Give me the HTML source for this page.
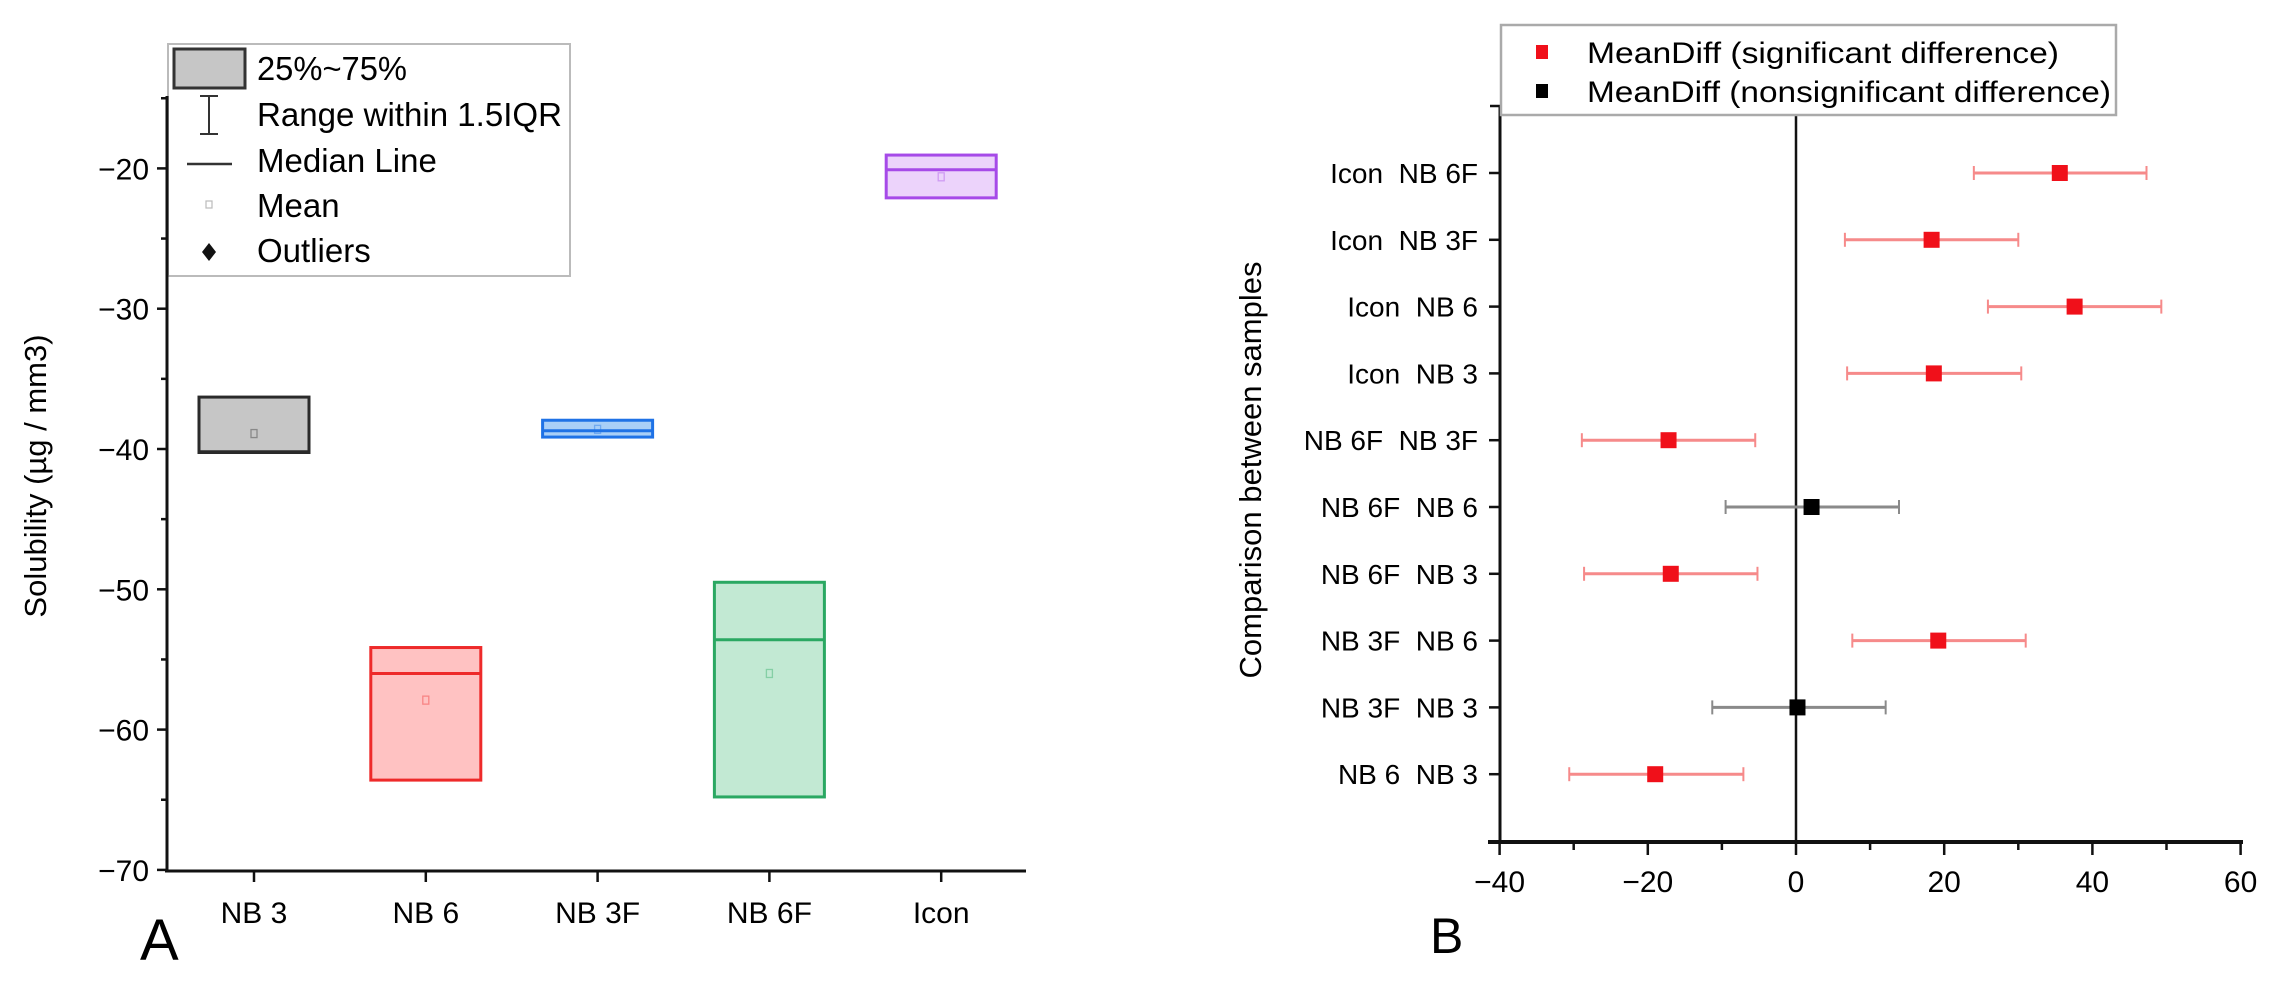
<!DOCTYPE html>
<html><head><meta charset="utf-8">
<style>
html,body{margin:0;padding:0;background:#fff;}
svg{display:block;font-family:"Liberation Sans",Arial,sans-serif;}
</style></head>
<body>
<svg id="fig" width="2282" height="982" viewBox="0 0 2282 982">
  <g id="panelA"></g>
  <g id="panelB"></g>
</svg>
<script>
// ---------- Panel A data ----------
const aCategories = ["NB 3","NB 6","NB 3F","NB 6F","Icon"];
const aQ1 = [-40.25,-63.6,-39.15,-64.8,-22.1];
const aQ3 = [-36.3,-54.15,-37.95,-49.5,-19.05];
const aMedian = [-40.2,-56.0,-38.7,-53.6,-20.1];
const aMean = [-38.9,-57.9,-38.6,-56.0,-20.6];
const aYTicks = [-70,-60,-50,-40,-30,-20];
const aFill = ["#c6c6c6","#ffc2c2","#a9cff7","#c2e9d3","#ecd3fb"];
const aStroke = ["#2a2a2a","#ee2a2a","#1f72e6","#2aa862","#a64ae8"];

// ---------- Panel B data ----------
const bCategories = ["NB 6  NB 3","NB 3F  NB 3","NB 3F  NB 6","NB 6F  NB 3","NB 6F  NB 6","NB 6F  NB 3F","Icon  NB 3","Icon  NB 6","Icon  NB 3F","Icon  NB 6F"];
const bMeanDiff = [-19.0,0.2,19.2,-16.9,2.1,-17.2,18.6,37.6,18.3,35.6];
const bLower = [-30.6,-11.3,7.6,-28.6,-9.5,-28.9,6.9,25.9,6.6,24.0];
const bUpper = [-7.1,12.1,31.0,-5.2,13.9,-5.5,30.4,49.3,30.0,47.3];
const bSignificant = [true,false,true,true,false,true,true,true,true,true];
const bXTicks = [-40,-20,0,20,40,60];

const NS="http://www.w3.org/2000/svg";
function mk(parent,tag,attrs,text){const e=document.createElementNS(NS,tag);for(const k in attrs)e.setAttribute(k,attrs[k]);if(text!==undefined)e.textContent=text;parent.appendChild(e);return e;}

// ===== Panel A =====
const A=document.getElementById('panelA');
const ayS=v=>449+(-40-v)*14.03;
const axS=i=>254+171.8*i;
const aBoxW=110;
const lg=mk(A,'g',{});


mk(lg,'rect',{x:168,y:44,width:402,height:232,fill:'#fff',stroke:'#bbb','stroke-width':2});
let sw=mk(lg,'rect',{x:174,y:49,width:71,height:39,fill:'#c6c6c6',stroke:'#333','stroke-width':3});

mk(lg,'path',{d:'M200 96 H218 M209 96 V134 M200 134 H218',stroke:'#333','stroke-width':2,fill:'none'});
mk(lg,'path',{d:'M187 164 H232',stroke:'#333','stroke-width':2.5});
mk(lg,'rect',{x:206,y:201,width:6,height:7,fill:'none',stroke:'#bbb','stroke-width':1.2});
mk(lg,'path',{d:'M209 243 L216 252 L209 261 L202 252 Z',fill:'#111'});
const aLeg=[["25%~75%",80,150],["Range within 1.5IQR",126,305],["Median Line",172,0],["Mean",217,0],["Outliers",262,0]];
aLeg.forEach(([t,y,w],i)=>{const at={x:257,y:y,'font-size':33,fill:'#000'};
 if(w){at.textLength=w;at.lengthAdjust='spacingAndGlyphs';}
 const e=mk(lg,'text',at,t);
 });
const aAxes=mk(A,'g',{stroke:'#111','stroke-width':3});

mk(aAxes,'line',{x1:167,y1:96,x2:167,y2:871});
mk(aAxes,'line',{x1:165,y1:871,x2:1026,y2:871});
for(let v=-70;v<=-15;v+=5){const y=ayS(v);mk(aAxes,'line',{x1:v%10===0?157:161,y1:y,x2:167,y2:y,'stroke-width':2.5});}
aYTicks.forEach(v=>{const t=mk(A,'text',{x:149,y:ayS(v)+11,'font-size':30,'text-anchor':'end',fill:'#000'},'\u2212'+Math.abs(v));
 });
const aTitle=mk(A,'text',{x:0,y:0,'font-size':31,'text-anchor':'middle',fill:'#000',transform:'translate(46,476) rotate(-90)'},'Solubility (\u00b5g / mm3)');

aCategories.forEach((c,i)=>{const x=axS(i);
 mk(aAxes,'line',{x1:x,y1:871,x2:x,y2:882,'stroke-width':2.5});
 const t=mk(A,'text',{x:x,y:923,'font-size':30,'text-anchor':'middle',fill:'#000'},c);
 
 const g=mk(A,'g',{});
 
 
 const y1=ayS(aQ3[i]),y2=ayS(aQ1[i]);
 mk(g,'rect',{x:x-aBoxW/2,y:y1,width:aBoxW,height:y2-y1,fill:aFill[i],stroke:aStroke[i],'stroke-width':3});
 mk(g,'line',{x1:x-aBoxW/2,x2:x+aBoxW/2,y1:ayS(aMedian[i]),y2:ayS(aMedian[i]),stroke:aStroke[i],'stroke-width':3});
 mk(g,'rect',{x:x-3,y:ayS(aMean[i])-4,width:6,height:8,fill:'none',stroke:aStroke[i],'stroke-opacity':0.4,'stroke-width':1.3});
});
const aLab=mk(A,'text',{x:140,y:960,'font-size':58,fill:'#000'},'A');


// ===== Panel B =====
const B=document.getElementById('panelB');
const bxS=v=>1796+v*7.41;
const byS=p=>841-p*66.8;
const bAx=mk(B,'g',{stroke:'#111','stroke-width':3});

mk(bAx,'line',{x1:1500,y1:106,x2:1500,y2:843});
mk(bAx,'line',{x1:1488,y1:842,x2:2243,y2:842,'stroke-width':4});
mk(bAx,'line',{x1:bxS(0),y1:106,x2:bxS(0),y2:842,'stroke-width':2.5});
mk(bAx,'line',{x1:1490,y1:106,x2:1500,y2:106,'stroke-width':2.5});
for(let v=-40;v<=60;v+=10){mk(bAx,'line',{x1:bxS(v),y1:842,x2:bxS(v),y2:v%20===0?855:850,'stroke-width':2.5});}
bXTicks.forEach(v=>{const t=mk(B,'text',{x:bxS(v),y:892,'font-size':30,'text-anchor':'middle',fill:'#000'},(v<0?'\u2212':'')+Math.abs(v));
 });
bCategories.forEach((c,i)=>{const y=byS(i+1);
 mk(bAx,'line',{x1:1489,y1:y,x2:1500,y2:y,'stroke-width':2.5});
 const t=mk(B,'text',{x:1478,y:y+10,'font-size':28,'text-anchor':'end',fill:'#000','xml:space':'preserve'},c);
 t.style.whiteSpace='pre';
 
 const sig=bSignificant[i];
 const g=mk(B,'g',{});
 
 
 const col=sig?'#f68a8a':'#8a8a8a';
 mk(g,'line',{x1:bxS(bLower[i]),x2:bxS(bUpper[i]),y1:y,y2:y,stroke:col,'stroke-width':3});
 mk(g,'line',{x1:bxS(bLower[i]),x2:bxS(bLower[i]),y1:y-7,y2:y+7,stroke:col,'stroke-width':2});
 mk(g,'line',{x1:bxS(bUpper[i]),x2:bxS(bUpper[i]),y1:y-7,y2:y+7,stroke:col,'stroke-width':2});
 mk(g,'rect',{x:bxS(bMeanDiff[i])-8,y:y-8,width:16,height:16,fill:sig?'#f0101a':'#000'});
});
const bTitle=mk(B,'text',{x:0,y:0,'font-size':31,'text-anchor':'middle',fill:'#000',transform:'translate(1261,470) rotate(-90)'},'Comparison between samples');

const lb=mk(B,'g',{});


mk(lb,'rect',{x:1501,y:25,width:615,height:90,fill:'#fff',stroke:'#aaa','stroke-width':2.5});
mk(lb,'rect',{x:1536,y:45,width:12,height:14,fill:'#f0101a'});
mk(lb,'rect',{x:1536,y:84,width:12,height:14,fill:'#000'});
const l1=mk(lb,'text',{x:1587,y:63,'font-size':30,fill:'#000',textLength:472,lengthAdjust:'spacingAndGlyphs'},'MeanDiff (significant difference)');

const l2=mk(lb,'text',{x:1587,y:102,'font-size':30,fill:'#000',textLength:524,lengthAdjust:'spacingAndGlyphs'},'MeanDiff (nonsignificant difference)');

const bLab=mk(B,'text',{x:1430,y:953,'font-size':50,fill:'#000'},'B');

</script>
</body></html>
